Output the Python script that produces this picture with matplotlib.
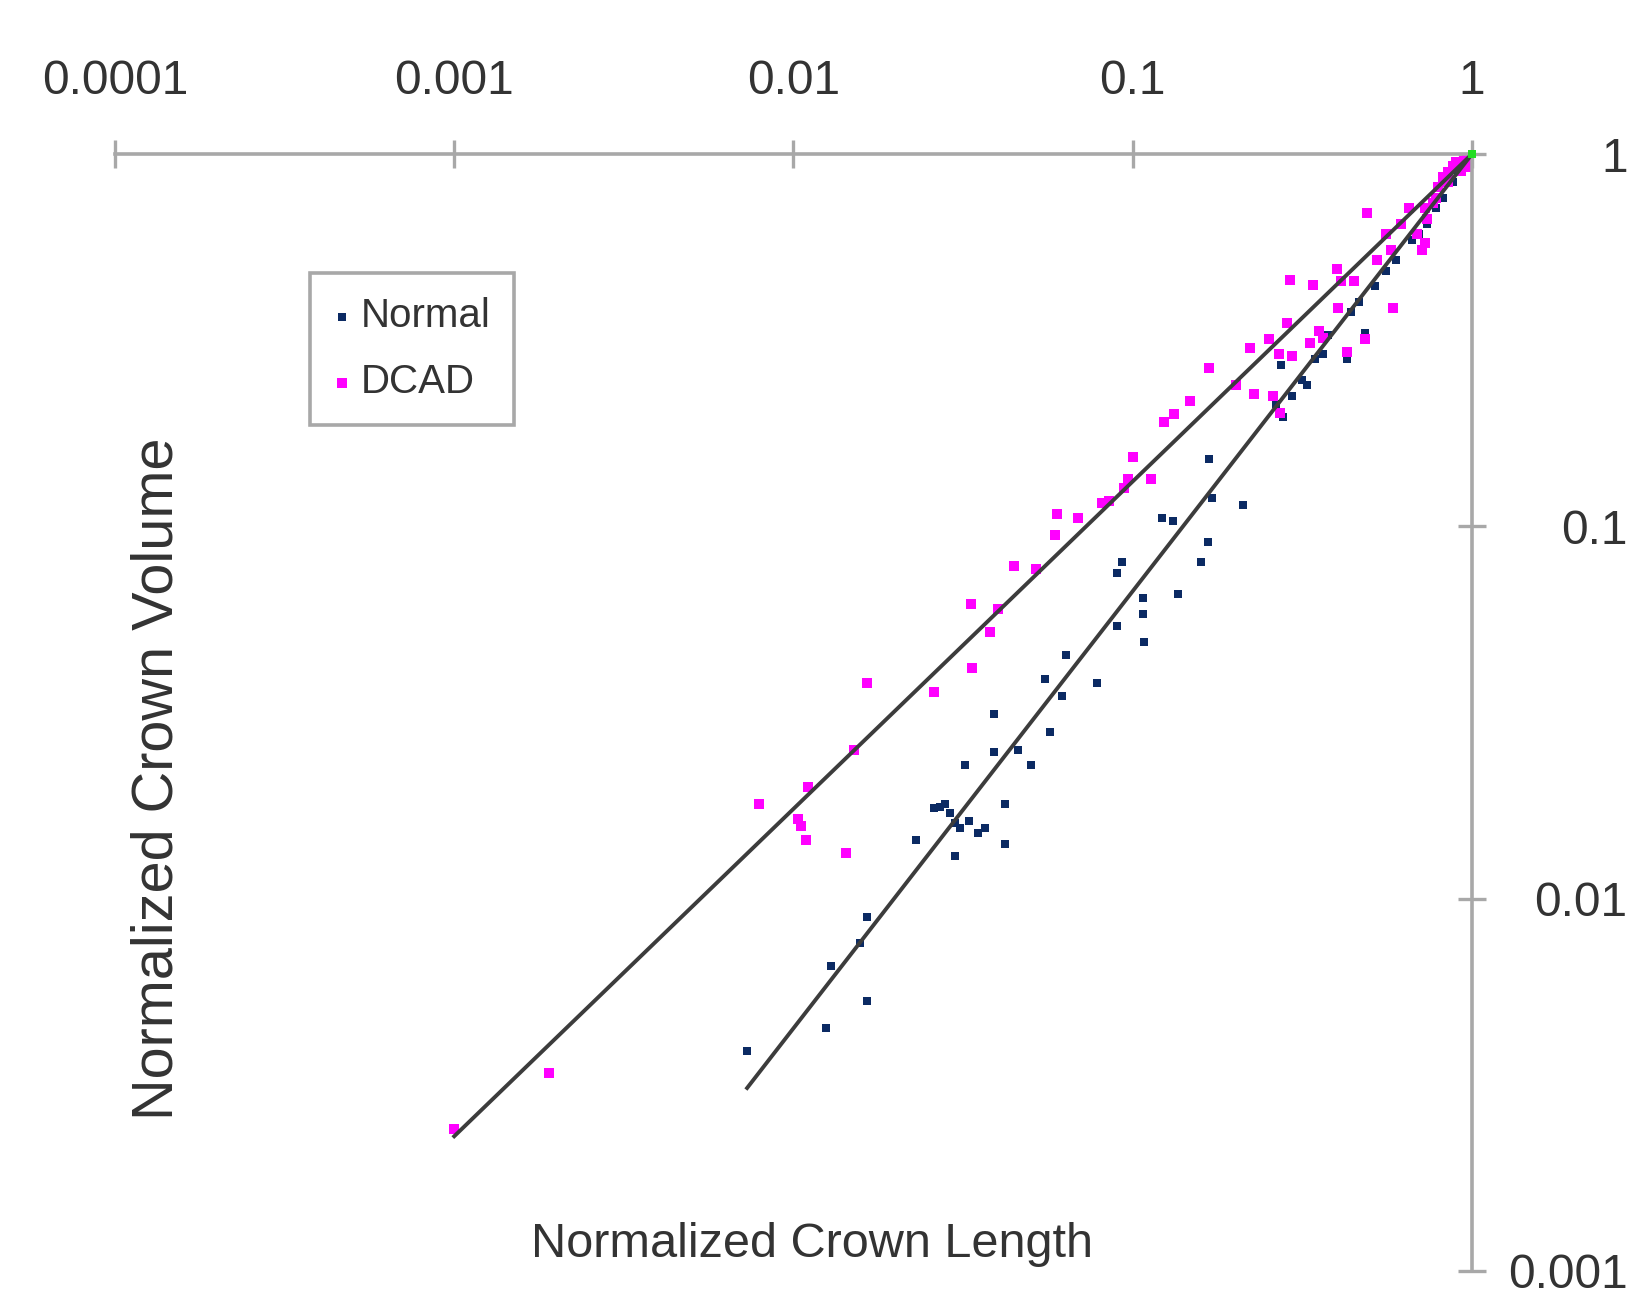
import matplotlib
matplotlib.use('Agg')
import matplotlib.pyplot as plt

plt.rcParams['font.family'] = ['Liberation Sans', 'DejaVu Sans']

# Normal trees (normalized crown length vs normalized crown volume)
normal_x = [0.0073, 0.0125, 0.0165, 0.0129, 0.0157, 0.0165, 0.030, 0.023, 0.042, 0.026,
            0.027, 0.029, 0.030, 0.031, 0.033, 0.035, 0.0366, 0.028, 0.032, 0.039,
            0.042, 0.039, 0.046, 0.050, 0.055, 0.057, 0.062, 0.0635, 0.0785, 0.090,
            0.090, 0.093, 0.107, 0.107, 0.108, 0.136, 0.122, 0.131, 0.159, 0.167,
            0.168, 0.171, 0.211, 0.265, 0.278, 0.294, 0.316, 0.327, 0.344, 0.364,
            0.377, 0.428, 0.440, 0.466, 0.483, 0.518, 0.556, 0.597, 0.664, 0.697,
            0.738, 0.781, 0.820, 0.881, 0.912, 0.945, 0.979, 0.274]
normal_y = [0.0039, 0.0045, 0.0053, 0.0066, 0.0076, 0.0089, 0.013, 0.0144, 0.014, 0.0175,
            0.0176, 0.017, 0.016, 0.0155, 0.0162, 0.015, 0.0155, 0.018, 0.0228, 0.0247,
            0.018, 0.0314, 0.025, 0.0228, 0.039, 0.028, 0.035, 0.045, 0.038, 0.054,
            0.075, 0.080, 0.064, 0.058, 0.049, 0.066, 0.1055, 0.1035, 0.080, 0.091,
            0.152, 0.119, 0.114, 0.213, 0.197, 0.224, 0.247, 0.239, 0.281, 0.290,
            0.326, 0.281, 0.376, 0.400, 0.330, 0.441, 0.486, 0.518, 0.589, 0.609,
            0.649, 0.715, 0.763, 0.840, 0.896, 0.926, 0.975, 0.272]

# DCAD trees
dcad_x = [0.001, 0.0019, 0.0079, 0.011, 0.0103, 0.0105, 0.0109, 0.0143, 0.0151, 0.0165,
          0.026, 0.0336, 0.0334, 0.038, 0.040, 0.0446, 0.0517, 0.059, 0.060, 0.069,
          0.081, 0.085, 0.094, 0.100, 0.113, 0.097, 0.124, 0.132, 0.148, 0.168,
          0.201, 0.222, 0.228, 0.252, 0.259, 0.269, 0.290, 0.339, 0.332, 0.354,
          0.364, 0.399, 0.402, 0.410, 0.483, 0.490, 0.526, 0.556, 0.576, 0.584,
          0.619, 0.650, 0.688, 0.712, 0.728, 0.765, 0.792, 0.820, 0.850, 0.881,
          0.912, 0.945, 0.850, 0.781, 0.738, 0.450, 0.728, 0.284, 0.294, 0.428,
          0.272, 0.97, 0.93, 0.90, 0.96]
dcad_y = [0.0024, 0.0034, 0.018, 0.020, 0.0164, 0.0157, 0.0144, 0.0133, 0.025, 0.038,
          0.036, 0.0417, 0.062, 0.052, 0.060, 0.078, 0.077, 0.0945, 0.108, 0.1055,
          0.1155, 0.117, 0.127, 0.154, 0.134, 0.134, 0.191, 0.200, 0.217, 0.267,
          0.239, 0.302, 0.227, 0.318, 0.224, 0.290, 0.46, 0.444, 0.31, 0.334,
          0.320, 0.492, 0.385, 0.456, 0.318, 0.693, 0.518, 0.609, 0.553, 0.385,
          0.649, 0.715, 0.609, 0.553, 0.715, 0.739, 0.814, 0.868, 0.896, 0.926,
          0.938, 0.956, 0.840, 0.763, 0.671, 0.456, 0.578, 0.352, 0.286, 0.294,
          0.201, 0.98, 0.90, 0.95, 0.92]

# power-law fit lines (end points)
normal_fit_x = [0.0073, 1.0]
normal_fit_y = [0.0031, 1.0]
dcad_fit_x = [0.001, 1.0]
dcad_fit_y = [0.0023, 1.0]

origin_x = [1.0]
origin_y = [1.0]

x_ticks = [0.0001, 0.001, 0.01, 0.1, 1]
x_labels = ['0.0001', '0.001', '0.01', '0.1', '1']
y_ticks = [0.001, 0.01, 0.1, 1]
y_labels = ['0.001', '0.01', '0.1', '1']

fig = plt.figure(figsize=(16.33, 12.92), dpi=100)
ax = fig.add_axes([0.0704, 0.0163, 0.8310, 0.8645])

ax.scatter(normal_x, normal_y, marker='s', s=30, color='#0b2a63', linewidths=0,
           label='Normal', zorder=2)
ax.scatter(dcad_x, dcad_y, marker='s', s=52, color='#ff00ff', linewidths=0,
           label='DCAD', zorder=2)
ax.plot(dcad_fit_x, dcad_fit_y, color='#3c3c3c', lw=2.8, zorder=3)
ax.plot(normal_fit_x, normal_fit_y, color='#3c3c3c', lw=2.8, zorder=3)
ax.scatter(origin_x, origin_y, marker='s', s=36, color='#22dd22', linewidths=0,
           zorder=4, clip_on=False)

ax.set_xscale('log')
ax.set_yscale('log')
ax.set_xlim(0.0001, 1)
ax.set_ylim(0.001, 1)

for side in ['left', 'bottom']:
    ax.spines[side].set_visible(False)
for side in ['top', 'right']:
    ax.spines[side].set_color('#a8a8a8')
    ax.spines[side].set_linewidth(2.6)

ax.xaxis.tick_top()
ax.yaxis.tick_right()
ax.set_xticks(x_ticks, x_labels)
ax.set_yticks(y_ticks, y_labels)
ax.minorticks_off()
ax.tick_params(axis='both', direction='inout', length=20, width=2.4,
               color='#a8a8a8', labelsize=34.5, labelcolor='#333333')
ax.tick_params(axis='x', pad=26)
ax.tick_params(axis='y', pad=102)
plt.setp(ax.get_yticklabels(), ha='right')

ax.set_xlabel('Normalized Crown Length', fontsize=35, color='#333333')
ax.xaxis.set_label_position('bottom')
ax.xaxis.label.set_va('center')
ax.xaxis.set_label_coords(0.5136, 0.024)

ax.set_ylabel('Normalized Crown Volume', fontsize=41.5, color='#333333')
ax.yaxis.set_label_position('left')
ax.yaxis.label.set_va('center')
ax.yaxis.set_label_coords(0.031, 0.441)

leg = ax.legend(loc='upper left', bbox_to_anchor=(0.1437, 0.8935), borderaxespad=0,
                fontsize=29, frameon=True, fancybox=False, framealpha=1,
                edgecolor='#a8a8a8', handlelength=0.4, handletextpad=0.25,
                labelspacing=0.7, borderpad=0.6, markerscale=1.0)
leg.get_frame().set_linewidth(2.6)
for t in leg.get_texts():
    t.set_color('#333333')

fig.savefig('out.png', dpi=100)
